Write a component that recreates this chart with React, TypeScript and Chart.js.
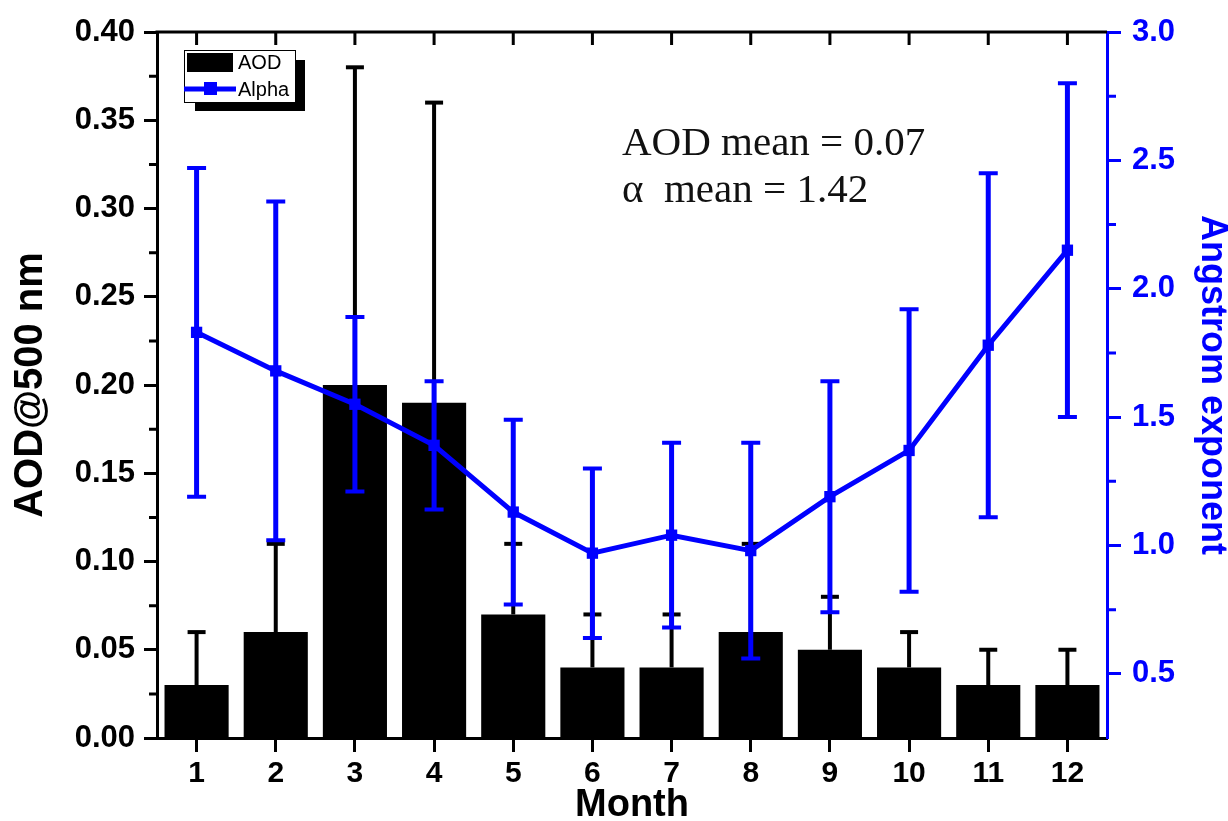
import React, { useEffect, useRef } from 'react';
import { Chart, registerables } from 'chart.js';

Chart.register(...registerables);

// ---------- data ----------
const months = ['1', '2', '3', '4', '5', '6', '7', '8', '9', '10', '11', '12'];
const aodValues = [0.03, 0.06, 0.2, 0.19, 0.07, 0.04, 0.04, 0.06, 0.05, 0.04, 0.03, 0.03];
const aodErrors = [0.03, 0.05, 0.18, 0.17, 0.04, 0.03, 0.03, 0.05, 0.03, 0.02, 0.02, 0.02];
const alphaValues = [1.83, 1.68, 1.55, 1.39, 1.13, 0.97, 1.04, 0.98, 1.19, 1.37, 1.78, 2.15];
const alphaErrors = [0.64, 0.66, 0.34, 0.25, 0.36, 0.33, 0.36, 0.42, 0.45, 0.55, 0.67, 0.65];

const leftMajorTicks = [0, 0.05, 0.1, 0.15, 0.2, 0.25, 0.3, 0.35, 0.4];
const leftMinorTicks = [0.025, 0.075, 0.125, 0.175, 0.225, 0.275, 0.325, 0.375];
const rightMajorTicks = [0.5, 1.0, 1.5, 2.0, 2.5, 3.0];
const rightMinorTicks = [0.75, 1.25, 1.75, 2.25, 2.75];

const legendLabels = ['AOD', 'Alpha'];
const annotationLines = ['AOD mean = 0.07', '\u03b1  mean = 1.42'];

const BLUE = '#0000ff';
const SANS = "'Liberation Sans', Arial, sans-serif";
const SERIF = "'Liberation Serif', 'Times New Roman', serif";

// ---------- plugins ----------
const errorBarPlugin = {
  id: 'errorBars',
  afterDatasetDraw(chart: any, args: any) {
    const ds: any = chart.data.datasets[args.index];
    if (!ds.errors) return;
    const ctx = chart.ctx;
    const yScale = chart.scales[ds.yAxisID];
    ctx.save();
    ctx.strokeStyle = ds.errColor;
    ctx.lineCap = 'butt';
    args.meta.data.forEach((el: any, i: number) => {
      const v = ds.data[i];
      const e = ds.errors[i];
      const x = el.x;
      const yTop = yScale.getPixelForValue(v + e);
      const yBot = ds.errBoth ? yScale.getPixelForValue(v - e) : el.y;
      ctx.lineWidth = ds.errLineWidth;
      ctx.beginPath();
      ctx.moveTo(x, yBot);
      ctx.lineTo(x, yTop);
      ctx.stroke();
      ctx.lineWidth = ds.errCapThickness;
      const hw = ds.errCapWidth / 2;
      ctx.beginPath();
      ctx.moveTo(x - hw, yTop);
      ctx.lineTo(x + hw, yTop);
      if (ds.errBoth) {
        ctx.moveTo(x - hw, yBot);
        ctx.lineTo(x + hw, yBot);
      }
      ctx.stroke();
    });
    ctx.restore();
  },
};

const framePlugin = {
  id: 'frame',
  afterDraw(chart: any) {
    const ctx = chart.ctx;
    const ca = chart.chartArea;
    const xs = chart.scales.x;
    const yl = chart.scales.y;
    const yr = chart.scales.y1;
    ctx.save();
    // top axis line with inward ticks
    ctx.strokeStyle = '#000';
    ctx.lineWidth = 3;
    ctx.beginPath();
    ctx.moveTo(ca.left - 1.5, ca.top);
    ctx.lineTo(ca.right, ca.top);
    ctx.stroke();
    ctx.beginPath();
    months.forEach((_m, i) => {
      const x = xs.getPixelForValue(i);
      ctx.moveTo(x, ca.top);
      ctx.lineTo(x, ca.top + 13);
    });
    ctx.stroke();
    // left minor ticks
    ctx.beginPath();
    leftMinorTicks.forEach((v) => {
      const y = yl.getPixelForValue(v);
      ctx.moveTo(ca.left, y);
      ctx.lineTo(ca.left - 8, y);
    });
    ctx.stroke();
    // right minor ticks
    ctx.strokeStyle = BLUE;
    ctx.beginPath();
    rightMinorTicks.forEach((v) => {
      const y = yr.getPixelForValue(v);
      ctx.moveTo(ca.right, y);
      ctx.lineTo(ca.right + 9, y);
    });
    ctx.stroke();

    // legend box
    const lx = ca.left + 27;
    const ly = ca.top + 18;
    ctx.fillStyle = '#000';
    ctx.fillRect(lx + 11, ly + 10, 110, 51);
    ctx.fillStyle = '#fff';
    ctx.fillRect(lx, ly, 111, 52);
    ctx.strokeStyle = '#000';
    ctx.lineWidth = 1;
    ctx.strokeRect(lx + 0.5, ly + 0.5, 111, 52);
    ctx.fillStyle = '#000';
    ctx.fillRect(lx + 3, ly + 3, 46, 19);
    ctx.strokeStyle = BLUE;
    ctx.lineWidth = 5;
    ctx.beginPath();
    ctx.moveTo(lx, ly + 39);
    ctx.lineTo(lx + 52, ly + 39);
    ctx.stroke();
    ctx.fillStyle = BLUE;
    ctx.fillRect(lx + 20, ly + 32, 13, 13);
    ctx.fillStyle = '#000';
    ctx.font = `20px ${SANS}`;
    ctx.textBaseline = 'middle';
    ctx.textAlign = 'left';
    ctx.fillText(legendLabels[0], lx + 54, ly + 13);
    ctx.fillText(legendLabels[1], lx + 54, ly + 40);

    // annotation
    ctx.font = `41px ${SERIF}`;
    ctx.textBaseline = 'alphabetic';
    ctx.fillStyle = '#111';
    ctx.fillText(annotationLines[0], ca.left + 465, ca.top + 123);
    ctx.fillText(annotationLines[1], ca.left + 465, ca.top + 170);
    ctx.restore();
  },
};

export default function App() {
  const canvasRef = useRef<HTMLCanvasElement | null>(null);

  useEffect(() => {
    const canvas = canvasRef.current;
    if (!canvas) return;
    const chart = new Chart(canvas, {
      type: 'bar',
      data: {
        labels: months,
        datasets: [
          {
            type: 'bar',
            label: legendLabels[0],
            data: aodValues,
            yAxisID: 'y',
            backgroundColor: '#000',
            borderColor: '#000',
            borderWidth: 0,
            categoryPercentage: 0.81,
            barPercentage: 1.0,
            order: 2,
            errors: aodErrors,
            errBoth: false,
            errColor: '#000',
            errLineWidth: 4,
            errCapWidth: 18,
            errCapThickness: 4,
          } as any,
          {
            type: 'line',
            label: legendLabels[1],
            data: alphaValues,
            yAxisID: 'y1',
            borderColor: BLUE,
            backgroundColor: BLUE,
            borderWidth: 5,
            pointStyle: 'rect',
            pointRadius: 8,
            pointBorderWidth: 0,
            tension: 0,
            order: 1,
            errors: alphaErrors,
            errBoth: true,
            errColor: BLUE,
            errLineWidth: 5,
            errCapWidth: 19,
            errCapThickness: 4,
          } as any,
        ],
      },
      options: {
        responsive: false,
        animation: false,
        devicePixelRatio: 1,
        layout: { padding: { top: 32, left: 0, right: 0, bottom: 0 } },
        plugins: {
          legend: { display: false },
          tooltip: { enabled: false },
        },
        scales: {
          x: {
            type: 'category',
            offset: true,
            grid: {
              offset: false,
              drawOnChartArea: false,
              tickLength: 14,
              tickWidth: 3,
              tickColor: '#000',
            },
            border: { color: '#000', width: 3 },
            ticks: {
              color: '#000',
              padding: 4,
              maxRotation: 0,
              font: { family: SANS, size: 30, weight: 'bold' },
            },
            title: {
              display: true,
              text: 'Month',
              color: '#000',
              padding: 0,
              font: { family: SANS, size: 38, weight: 'bold', lineHeight: 0.8 },
            },
            afterFit: (s: any) => {
              s.height = 83;
            },
          },
          y: {
            position: 'left',
            min: 0,
            max: 0.4,
            grid: {
              drawOnChartArea: false,
              tickLength: 13,
              tickWidth: 3,
              tickColor: '#000',
            },
            border: { color: '#000', width: 3 },
            afterBuildTicks: (s: any) => {
              s.ticks = leftMajorTicks.map((v) => ({ value: v }));
            },
            ticks: {
              color: '#000',
              padding: 9,
              font: { family: SANS, size: 31, weight: 'bold' },
              callback: (v: any) => Number(v).toFixed(2),
            },
            title: {
              display: true,
              text: 'AOD@500 nm',
              color: '#000',
              padding: { top: 11, bottom: 0 },
              font: { family: SANS, size: 40, weight: 'bold', lineHeight: 1 },
            },
            afterFit: (s: any) => {
              s.width = 157;
            },
          },
          y1: {
            position: 'right',
            min: 0.25,
            max: 3.0,
            grid: {
              drawOnChartArea: false,
              tickLength: 14,
              tickWidth: 3,
              tickColor: BLUE,
            },
            border: { color: BLUE, width: 3 },
            afterBuildTicks: (s: any) => {
              s.ticks = rightMajorTicks.map((v) => ({ value: v }));
            },
            ticks: {
              color: BLUE,
              padding: 11,
              font: { family: SANS, size: 31, weight: 'bold' },
              callback: (v: any) => Number(v).toFixed(1),
            },
            title: {
              display: true,
              text: 'Angstrom exponent',
              color: BLUE,
              padding: { top: 0, bottom: 0 },
              font: { family: SANS, size: 36, weight: 'bold', lineHeight: 0.9 },
            },
            afterFit: (s: any) => {
              s.width = 121;
            },
          },
        },
      } as any,
      plugins: [errorBarPlugin, framePlugin],
    });
    return () => chart.destroy();
  }, []);

  return (
    <div
      style={{
        position: 'fixed',
        left: 0,
        top: 0,
        width: 1228,
        height: 821,
        background: '#fff',
      }}
    >
      <canvas ref={canvasRef} width={1228} height={821} style={{ display: 'block' }} />
    </div>
  );
}
